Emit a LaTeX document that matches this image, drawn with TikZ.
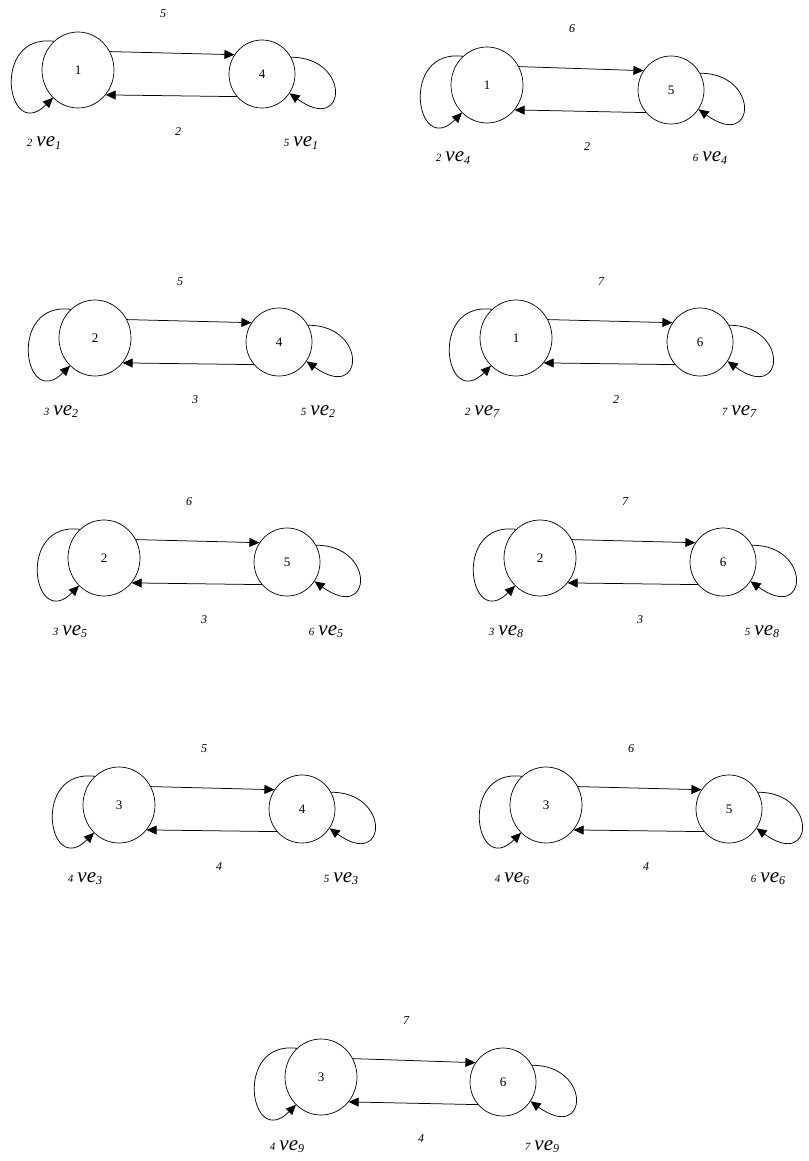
\documentclass[tikz,border=0pt]{standalone}
\usepackage{fontspec}
\setmainfont{Liberation Serif}
\usepackage{tikz}
\usetikzlibrary{shapes.geometric,arrows.meta,positioning}
\newcommand{\velab}[2]{{\fontsize{11}{11}\selectfont #1}\hspace{4pt}{\fontsize{21}{21}\selectfont ve}\raisebox{-2.5pt}{\fontsize{12}{12}\selectfont #2}}

\begin{document}
\begin{tikzpicture}[x=1pt, y=-1pt]
    \tikzstyle{bigstate} = [draw, ellipse, line width=0.7pt, minimum width=72pt, minimum height=76pt, inner sep=0pt, font=\fontsize{13}{13}\selectfont]
    \tikzstyle{smallstate} = [draw, ellipse, line width=0.7pt, minimum width=66pt, minimum height=68pt, inner sep=0pt, font=\fontsize{13}{13}\selectfont]
    \tikzstyle{tarrow} = [line width=0.75pt, -{Triangle[length=10pt,width=9pt]}]
    \tikzstyle{wlabel} = [inner sep=0pt, font=\fontsize{12}{12}\selectfont\itshape]
    \tikzstyle{velabel} = [anchor=base, inner sep=0pt, font=\itshape]

    \useasboundingbox (0,0) rectangle (808,1161);

    % graph 1
    \node[bigstate] (l1) at (78,70) {1};
    \node[smallstate] (r1) at (262,74) {4};
    \node[wlabel] (t1) at (163,14) {5};
    \node[wlabel] (b1) at (178,132) {2};
    \node[velabel] (vl1) at (44,147) {\velab{2}{1}};
    \node[velabel] (vr1) at (301,147) {\velab{5}{1}};
    \draw[tarrow] (l1.30) -- (r1.145);
    \draw[tarrow] (r1.222) -- (l1.318);
    \draw[tarrow] (l1.130) .. controls +(-64,-8) and +(-46,46) .. (l1.228);
    \draw[tarrow] (r1.30) .. controls +(60,0) and +(58,42) .. (r1.-35);

    % graph 2
    \node[bigstate] (l2) at (487,85) {1};
    \node[smallstate] (r2) at (671,90) {5};
    \node[wlabel] (t2) at (572,29) {6};
    \node[wlabel] (b2) at (587,147) {2};
    \node[velabel] (vl2) at (453,162) {\velab{2}{4}};
    \node[velabel] (vr2) at (710,162) {\velab{6}{4}};
    \draw[tarrow] (l2.30) -- (r2.145);
    \draw[tarrow] (r2.222) -- (l2.318);
    \draw[tarrow] (l2.130) .. controls +(-64,-8) and +(-46,46) .. (l2.228);
    \draw[tarrow] (r2.30) .. controls +(60,0) and +(58,42) .. (r2.-35);

    % graph 3
    \node[bigstate] (l3) at (95,338) {2};
    \node[smallstate] (r3) at (279,342) {4};
    \node[wlabel] (t3) at (180,282) {5};
    \node[wlabel] (b3) at (195,400) {3};
    \node[velabel] (vl3) at (61,415) {\velab{3}{2}};
    \node[velabel] (vr3) at (318,415) {\velab{5}{2}};
    \draw[tarrow] (l3.30) -- (r3.145);
    \draw[tarrow] (r3.222) -- (l3.318);
    \draw[tarrow] (l3.130) .. controls +(-64,-8) and +(-46,46) .. (l3.228);
    \draw[tarrow] (r3.30) .. controls +(60,0) and +(58,42) .. (r3.-35);

    % graph 4
    \node[bigstate] (l4) at (516,338) {1};
    \node[smallstate] (r4) at (700,342) {6};
    \node[wlabel] (t4) at (601,282) {7};
    \node[wlabel] (b4) at (616,400) {2};
    \node[velabel] (vl4) at (482,415) {\velab{2}{7}};
    \node[velabel] (vr4) at (739,415) {\velab{7}{7}};
    \draw[tarrow] (l4.30) -- (r4.145);
    \draw[tarrow] (r4.222) -- (l4.318);
    \draw[tarrow] (l4.130) .. controls +(-64,-8) and +(-46,46) .. (l4.228);
    \draw[tarrow] (r4.30) .. controls +(60,0) and +(58,42) .. (r4.-35);

    % graph 5
    \node[bigstate] (l5) at (104,558) {2};
    \node[smallstate] (r5) at (287,562) {5};
    \node[wlabel] (t5) at (189,502) {6};
    \node[wlabel] (b5) at (204,620) {3};
    \node[velabel] (vl5) at (70,635) {\velab{3}{5}};
    \node[velabel] (vr5) at (326,635) {\velab{6}{5}};
    \draw[tarrow] (l5.30) -- (r5.145);
    \draw[tarrow] (r5.222) -- (l5.318);
    \draw[tarrow] (l5.130) .. controls +(-64,-8) and +(-46,46) .. (l5.228);
    \draw[tarrow] (r5.30) .. controls +(60,0) and +(58,42) .. (r5.-35);

    % graph 6
    \node[bigstate] (l6) at (540,558) {2};
    \node[smallstate] (r6) at (723,562) {6};
    \node[wlabel] (t6) at (625,502) {7};
    \node[wlabel] (b6) at (640,620) {3};
    \node[velabel] (vl6) at (506,635) {\velab{3}{8}};
    \node[velabel] (vr6) at (762,635) {\velab{5}{8}};
    \draw[tarrow] (l6.30) -- (r6.145);
    \draw[tarrow] (r6.222) -- (l6.318);
    \draw[tarrow] (l6.130) .. controls +(-64,-8) and +(-46,46) .. (l6.228);
    \draw[tarrow] (r6.30) .. controls +(60,0) and +(58,42) .. (r6.-35);

    % graph 7
    \node[bigstate] (l7) at (119,805) {3};
    \node[smallstate] (r7) at (302,809) {4};
    \node[wlabel] (t7) at (204,749) {5};
    \node[wlabel] (b7) at (219,867) {4};
    \node[velabel] (vl7) at (85,882) {\velab{4}{3}};
    \node[velabel] (vr7) at (341,882) {\velab{5}{3}};
    \draw[tarrow] (l7.30) -- (r7.145);
    \draw[tarrow] (r7.222) -- (l7.318);
    \draw[tarrow] (l7.130) .. controls +(-64,-8) and +(-46,46) .. (l7.228);
    \draw[tarrow] (r7.30) .. controls +(60,0) and +(58,42) .. (r7.-35);

    % graph 8
    \node[bigstate] (l8) at (546,805) {3};
    \node[smallstate] (r8) at (729,809) {5};
    \node[wlabel] (t8) at (631,749) {6};
    \node[wlabel] (b8) at (646,867) {4};
    \node[velabel] (vl8) at (512,882) {\velab{4}{6}};
    \node[velabel] (vr8) at (768,882) {\velab{6}{6}};
    \draw[tarrow] (l8.30) -- (r8.145);
    \draw[tarrow] (r8.222) -- (l8.318);
    \draw[tarrow] (l8.130) .. controls +(-64,-8) and +(-46,46) .. (l8.228);
    \draw[tarrow] (r8.30) .. controls +(60,0) and +(58,42) .. (r8.-35);

    % graph 9
    \node[bigstate] (l9) at (321,1077) {3};
    \node[smallstate] (r9) at (503,1082) {6};
    \node[wlabel] (t9) at (406,1021) {7};
    \node[wlabel] (b9) at (421,1139) {4};
    \node[velabel] (vl9) at (287,1150) {\velab{4}{9}};
    \node[velabel] (vr9) at (542,1150) {\velab{7}{9}};
    \draw[tarrow] (l9.30) -- (r9.145);
    \draw[tarrow] (r9.222) -- (l9.318);
    \draw[tarrow] (l9.130) .. controls +(-64,-8) and +(-46,46) .. (l9.228);
    \draw[tarrow] (r9.30) .. controls +(60,0) and +(58,42) .. (r9.-35);
\end{tikzpicture}
\end{document}
